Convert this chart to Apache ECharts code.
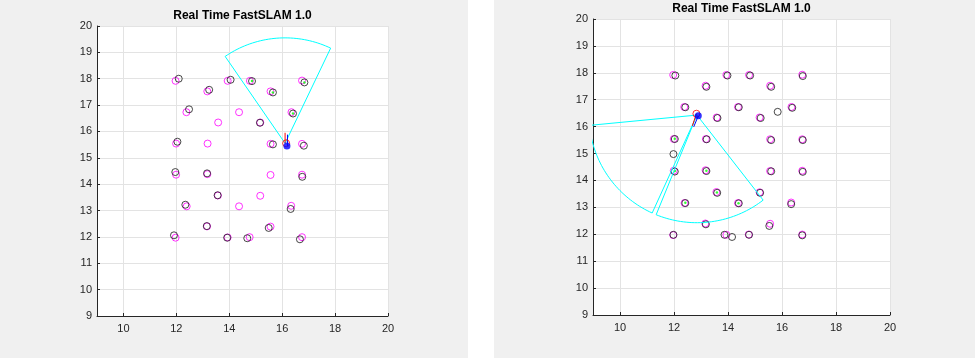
<!DOCTYPE html>
<html><head><meta charset="utf-8">
<script src="https://cdn.jsdelivr.net/npm/echarts@6/dist/echarts.min.js"></script>
<style>
html,body{margin:0;padding:0;background:#fff}
#c{width:975px;height:358px;background:linear-gradient(to right,#f0f0f0 0,#f0f0f0 468px,#ffffff 468px,#ffffff 494px,#f0f0f0 494px,#f0f0f0 975px)}
</style>
</head><body><div id="c"></div>
<script>
const titleText = 'Real Time FastSLAM 1.0';
const xTicks = [10, 12, 14, 16, 18, 20];
const yTicks = [9, 10, 11, 12, 13, 14, 15, 16, 17, 18, 19, 20];

// true landmark positions (magenta)
const landmarksTrue = [
  [11.97,17.92],[13.94,17.92],[14.78,17.92],[16.75,17.93],
  [13.17,17.52],[15.56,17.52],
  [12.38,16.73],[14.37,16.73],[16.35,16.73],
  [13.58,16.34],[15.17,16.34],
  [11.99,15.54],[13.18,15.54],[15.56,15.53],[16.75,15.53],
  [11.99,14.36],[13.17,14.38],[15.56,14.35],[16.75,14.36],
  [13.57,13.57],[15.17,13.56],
  [12.39,13.16],[14.37,13.16],[16.34,13.18],
  [13.16,12.40],[15.56,12.39],
  [11.97,11.97],[13.94,11.98],[14.77,11.99],[16.75,11.99]
];

// left figure
const leftEstimates = [
  [12.09,18.00],[14.05,17.96],[14.86,17.91],[16.84,17.86],
  [13.24,17.58],[15.65,17.48],
  [12.48,16.84],[16.41,16.68],
  [15.16,16.33],
  [12.04,15.61],[15.65,15.51],[16.82,15.46],
  [11.96,14.46],[13.16,14.41],[16.76,14.28],
  [13.56,13.58],
  [12.34,13.22],[16.32,13.06],
  [13.15,12.41],[15.49,12.34],
  [11.91,12.06],[13.92,11.97],[14.68,11.95],[16.67,11.91]
];
const leftObserved = [[14.86,17.91],[16.84,17.86],[15.65,17.48],[16.41,16.68]];
const leftRobotTrue = [[16.18,15.45]];
const leftRobotEst = [[16.15,15.55]];
const leftHeadingTrue = [[16.20,15.45],[16.20,15.88]];
const leftHeadingEst = [[16.11,15.55],[16.11,15.95]];
// sensor fans: [apexX, apexY, startDeg, endDeg, range]
const leftFans = [[16.11,15.55,64.5,124.5,4]];

// right figure
const rightEstimates = [
  [12.05,17.90],[13.20,17.48],[13.98,17.90],[14.82,17.90],[15.60,17.48],[16.77,17.88],
  [12.42,16.72],[14.40,16.72],[16.38,16.70],[15.84,16.55],[13.61,16.32],[15.21,16.32],
  [12.03,15.54],[13.21,15.53],[15.60,15.50],[16.77,15.50],
  [11.98,14.98],
  [12.03,14.33],[13.20,14.35],[15.60,14.34],[16.77,14.32],
  [13.60,13.54],[15.19,13.54],
  [12.42,13.16],[14.40,13.15],[16.34,13.12],
  [13.18,12.37],[15.53,12.31],
  [11.98,11.98],[13.87,11.98],[14.15,11.90],[14.78,11.98],[16.75,11.96]
];
const rightObserved = [[12.03,15.55],[12.03,14.35],[12.42,13.17],[13.20,14.36],[13.59,13.55],[14.39,13.15]];
const rightRobotTrue = [[12.90,16.40]];
const rightRobotEst = [[12.83,16.48]];
const rightHeadingTrue = [[12.90,16.40],[12.73,15.99]];
const rightHeadingEst = [[12.83,16.48],[12.68,16.03]];
const rightFans = [[12.85,16.43,185.5,245.5,4],[12.85,16.43,247.8,307.8,4]];

function fanPath(f) {
  const [cx, cy, a0, a1, r] = f;
  const pts = [[cx, cy]];
  const n = 80;
  for (let i = 0; i <= n; i++) {
    const a = (a0 + (a1 - a0) * i / n) * Math.PI / 180;
    pts.push([cx + r * Math.cos(a), cy + r * Math.sin(a)]);
  }
  pts.push([cx, cy]);
  return pts;
}

const axisColor = '#262626';
const gridColor = '#e3e3e3';
const font = 'Liberation Sans, Arial, sans-serif';

function xAxisFor(i) {
  return {
    gridIndex: i, type: 'value', min: 9, max: 20, interval: 1,
    axisLine: {show: true, onZero: false, lineStyle: {color: axisColor, width: 1}},
    axisTick: {show: true, inside: true, length: 3, customValues: xTicks, lineStyle: {color: axisColor}},
    axisLabel: {color: axisColor, fontSize: 11, fontFamily: font, margin: 7, customValues: xTicks},
    splitLine: {show: true, lineStyle: {color: gridColor, width: 1}}
  };
}
function yAxisFor(i) {
  return {
    gridIndex: i, type: 'value', min: 9, max: 20, interval: 1,
    axisLine: {show: true, onZero: false, lineStyle: {color: axisColor, width: 1}},
    axisTick: {show: true, inside: true, length: 3, lineStyle: {color: axisColor}},
    axisLabel: {color: axisColor, fontSize: 11, fontFamily: font, margin: 5},
    splitLine: {show: true, lineStyle: {color: gridColor, width: 1}}
  };
}

function seriesFor(i, est, obs, rTrue, rEst, hTrue, hEst, fans) {
  const base = {xAxisIndex: i, yAxisIndex: i, animation: false, silent: true};
  const s = [];
  s.push(Object.assign({}, base, {type: 'scatter', data: landmarksTrue, symbol: 'circle', symbolSize: 7,
    itemStyle: {color: 'rgba(0,0,0,0)', borderColor: '#ff00ff', borderWidth: 1}, z: 2}));
  s.push(Object.assign({}, base, {type: 'scatter', data: est, symbol: 'circle', symbolSize: 7,
    itemStyle: {color: 'rgba(0,0,0,0)', borderColor: '#1a1a1a', borderWidth: 1}, z: 3}));
  s.push(Object.assign({}, base, {type: 'scatter', data: obs, symbol: 'circle', symbolSize: 2.5,
    itemStyle: {color: '#00ff00'}, z: 4}));
  fans.forEach(f => {
    s.push(Object.assign({}, base, {type: 'line', data: fanPath(f), showSymbol: false, clip: true,
      lineStyle: {color: '#00ffff', width: 1}, z: 5}));
  });
  s.push(Object.assign({}, base, {type: 'line', data: hEst, showSymbol: false,
    lineStyle: {color: '#ff0000', width: 1}, z: 6}));
  s.push(Object.assign({}, base, {type: 'line', data: hTrue, showSymbol: false,
    lineStyle: {color: '#0000ff', width: 1}, z: 6}));
  s.push(Object.assign({}, base, {type: 'scatter', data: rEst, symbol: 'circle', symbolSize: 7,
    itemStyle: {color: 'rgba(0,0,0,0)', borderColor: '#ff0000', borderWidth: 1}, z: 7}));
  s.push(Object.assign({}, base, {type: 'scatter', data: rTrue, symbol: 'circle', symbolSize: 7,
    itemStyle: {color: '#0000ff'}, z: 8}));
  return s;
}

const chart = echarts.init(document.getElementById('c'), null, {renderer: 'canvas'});
chart.setOption({
  backgroundColor: 'transparent',
  animation: false,
  grid: [
    {left: 97, top: 26, width: 291, height: 290, show: true, backgroundColor: '#ffffff', borderWidth: 0},
    {left: 593, top: 19, width: 297, height: 296, show: true, backgroundColor: '#ffffff', borderWidth: 0}
  ],
  xAxis: [xAxisFor(0), xAxisFor(1)],
  yAxis: [yAxisFor(0), yAxisFor(1)],
  graphic: [
    {type: 'text', x: 242.5, y: 16, style: {text: titleText, fontSize: 12, fontWeight: 'bold', fontFamily: font,
      fill: '#000', align: 'center', verticalAlign: 'middle'}},
    {type: 'text', x: 741.5, y: 8.5, style: {text: titleText, fontSize: 12, fontWeight: 'bold', fontFamily: font,
      fill: '#000', align: 'center', verticalAlign: 'middle'}}
  ],
  series: [].concat(
    seriesFor(0, leftEstimates, leftObserved, leftRobotTrue, leftRobotEst, leftHeadingTrue, leftHeadingEst, leftFans),
    seriesFor(1, rightEstimates, rightObserved, rightRobotTrue, rightRobotEst, rightHeadingTrue, rightHeadingEst, rightFans)
  )
});
</script>
</body></html>
